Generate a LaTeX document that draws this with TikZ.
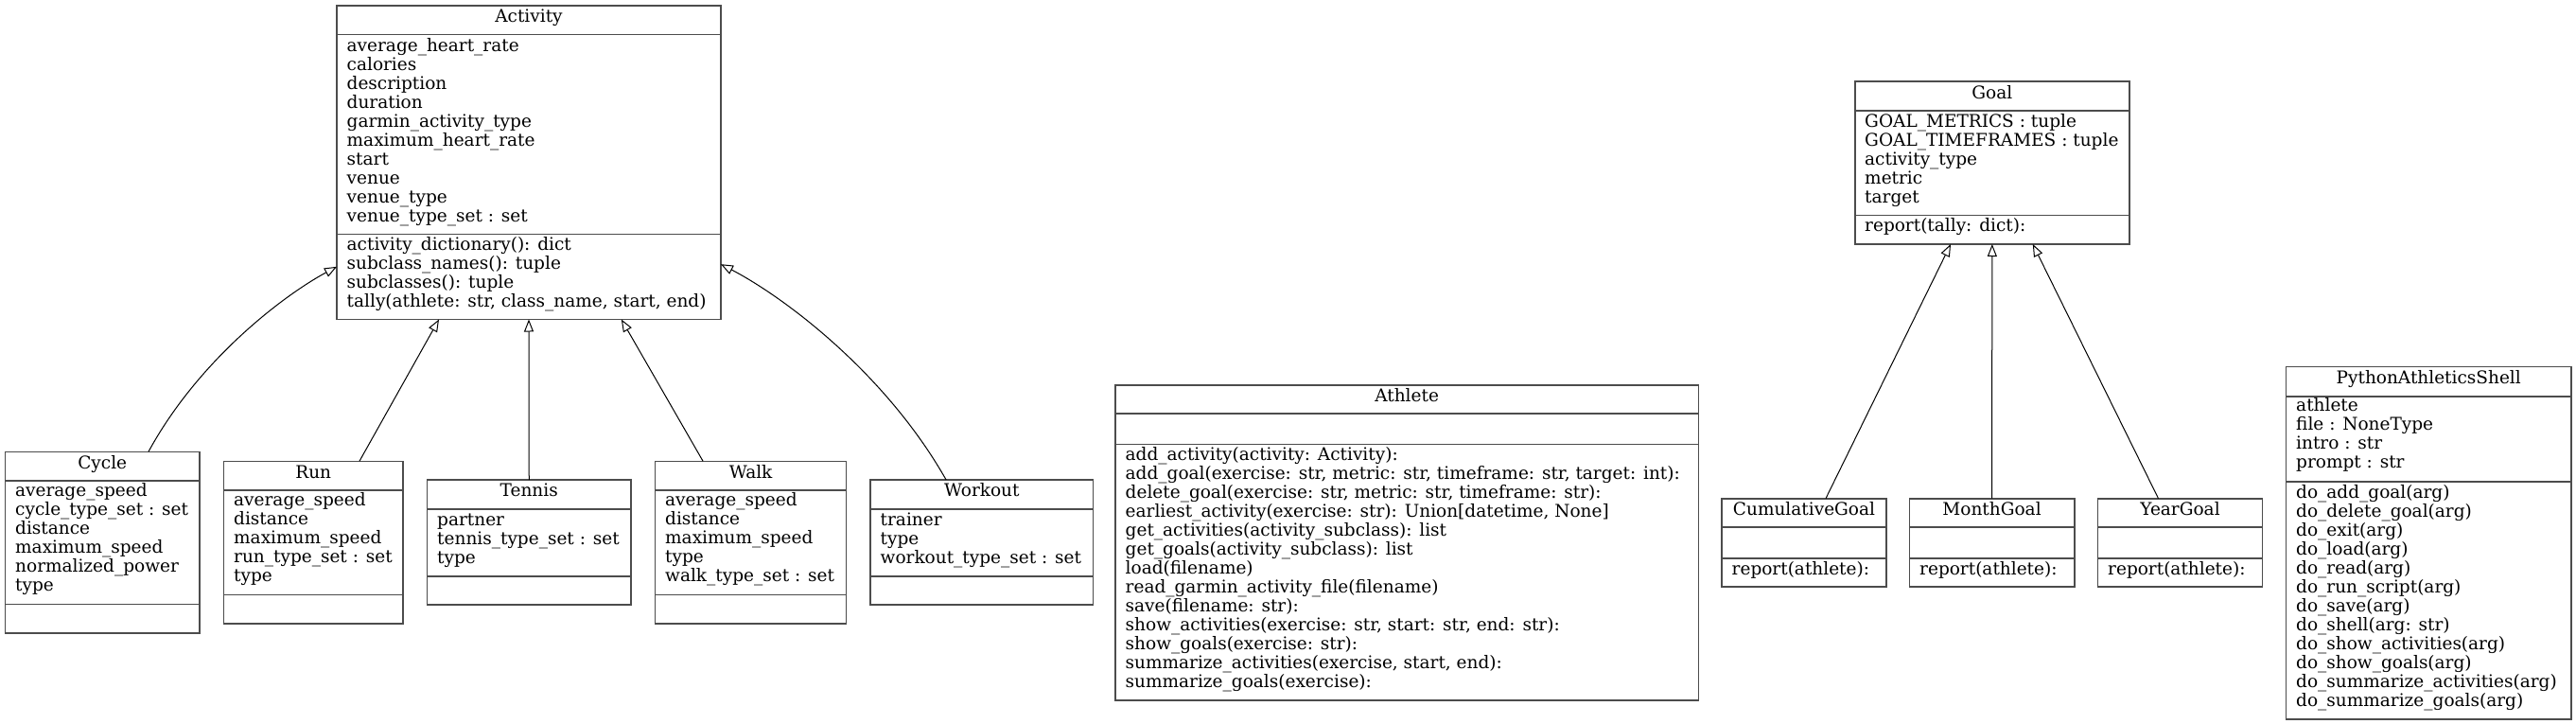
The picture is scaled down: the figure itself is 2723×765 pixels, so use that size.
\documentclass[tikz,border=0pt]{standalone}
\usepackage{fontspec}
\setmainfont{DejaVu Serif}
\usetikzlibrary{arrows.meta,calc}
\newcommand\umlfs{\fontsize{18.5}{20}\selectfont}
\tikzset{
  cls/.style={draw=black!70, line width=1.6pt, inner sep=0pt, outer sep=0pt, anchor=north west, fill=white},
  sepl/.style={draw=black!70, line width=1.6pt},
  ttl/.style={inner sep=0pt, anchor=mid, font=\umlfs},
  txt/.style={inner sep=0pt, anchor=mid west, align=left, font=\umlfs},
  inh/.style={draw=black, line width=1pt, -{Triangle[length=13pt,width=10pt,fill=white,line width=1pt]}}
}
% text nodes are anchored at the mid of their LAST line
\newcommand\umlclass[8]{%
  \node[cls, minimum width={(#4-#2)*1pt}, minimum height={(#5-#3)*1pt}] (#1) at (#2,-#3) {};
  \draw[sepl] (#1.west |- 0,-#6) -- (#1.east |- 0,-#6);
  \draw[sepl] (#1.west |- 0,-#7) -- (#1.east |- 0,-#7);
  \node[ttl] (#1-title) at ({(#2+#4)/2},{-(#3+#6)/2}) {#8};
}
\begin{document}
\begin{tikzpicture}[x=1pt,y=1pt]
\useasboundingbox (0,0) rectangle (2723,-765);
\fill[white] (0,0) rectangle (2723,-765);

% Activity
\umlclass{activity}{356}{6}{762}{337.5}{36.7}{247.3}{Activity}
\node[txt] (activity-attr) at (366.5,-231.7) {average\_heart\_rate\\calories\\description\\duration\\garmin\_activity\_type\\maximum\_heart\_rate\\start\\venue\\venue\_type\\venue\_type\_set : set};
\node[txt] (activity-meth) at (366.5,-322) {activity\_dictionary(): dict\\subclass\_names(): tuple\\subclasses(): tuple\\tally(athlete: str, class\_name, start, end)};

% Cycle
\umlclass{cycle}{5.5}{477.3}{211}{669}{507.7}{638.3}{Cycle}
\node[txt] (cycle-attr) at (16,-622.3) {average\_speed\\cycle\_type\_set : set\\distance\\maximum\_speed\\normalized\_power\\type};

% Run
\umlclass{run}{236.5}{487.3}{426}{659}{517.7}{628.3}{Run}
\node[txt] (run-attr) at (247,-612.3) {average\_speed\\distance\\maximum\_speed\\run\_type\_set : set\\type};

% Tennis
\umlclass{tennis}{451.5}{507}{667}{639}{537.7}{608.7}{Tennis}
\node[txt] (tennis-attr) at (462,-592.7) {partner\\tennis\_type\_set : set\\type};

% Walk
\umlclass{walk}{692.6}{487.3}{894.6}{659}{517.7}{628.3}{Walk}
\node[txt] (walk-attr) at (703,-612.3) {average\_speed\\distance\\maximum\_speed\\type\\walk\_type\_set : set};

% Workout
\umlclass{workout}{920}{507}{1155.6}{639}{537.7}{608.7}{Workout}
\node[txt] (workout-attr) at (930.5,-592.7) {trainer\\type\\workout\_type\_set : set};

% Athlete
\umlclass{athlete}{1179}{406.7}{1795.3}{740}{436.7}{469.3}{Athlete}
\node[txt] (athlete-meth) at (1189.5,-724.3) {add\_activity(activity: Activity):\\add\_goal(exercise: str, metric: str, timeframe: str, target: int):\\delete\_goal(exercise: str, metric: str, timeframe: str):\\earliest\_activity(exercise: str): Union[datetime, None]\\get\_activities(activity\_subclass): list\\get\_goals(activity\_subclass): list\\load(filename)\\read\_garmin\_activity\_file(filename)\\save(filename: str):\\show\_activities(exercise: str, start: str, end: str):\\show\_goals(exercise: str):\\summarize\_activities(exercise, start, end):\\summarize\_goals(exercise):};

% Goal
\umlclass{goal}{1960.7}{86}{2251}{258}{117}{227.4}{Goal}
\node[txt] (goal-attr) at (1971,-211.7) {GOAL\_METRICS : tuple\\GOAL\_TIMEFRAMES : tuple\\activity\_type\\metric\\target};
\node[txt] (goal-meth) at (1971,-242) {report(tally: dict):};

% CumulativeGoal, MonthGoal, YearGoal
\umlclass{cumgoal}{1820}{526.7}{1994}{620}{557}{589.7}{CumulativeGoal}
\node[txt] (cumgoal-meth) at (1830.5,-604.5) {report(athlete):};
\umlclass{monthgoal}{2018.4}{526.7}{2192.7}{620}{557}{589.7}{MonthGoal}
\node[txt] (monthgoal-meth) at (2029,-604.5) {report(athlete):};
\umlclass{yeargoal}{2217.4}{526.7}{2391.6}{620}{557}{589.7}{YearGoal}
\node[txt] (yeargoal-meth) at (2228,-604.5) {report(athlete):};

% PythonAthleticsShell
\umlclass{shell}{2416.4}{387.6}{2718}{759.8}{418.7}{508.7}{PythonAthleticsShell}
\node[txt] (shell-attr) at (2427,-492.4) {athlete\\file : NoneType\\intro : str\\prompt : str};
\node[txt] (shell-meth) at (2427,-744) {do\_add\_goal(arg)\\do\_delete\_goal(arg)\\do\_exit(arg)\\do\_load(arg)\\do\_read(arg)\\do\_run\_script(arg)\\do\_save(arg)\\do\_shell(arg: str)\\do\_show\_activities(arg)\\do\_show\_goals(arg)\\do\_summarize\_activities(arg)\\do\_summarize\_goals(arg)};

% Inheritance connectors
\draw[inh] ($(cycle.north west)!0.737!(cycle.north east)$) .. controls (210,-380) and (300,-312) .. ($(activity.north west)!0.832!(activity.south west)$);
\draw[inh] ($(run.north west)!0.757!(run.north east)$) -- ($(activity.south west)!0.266!(activity.south east)$);
\draw[inh] (tennis.north) -- (activity.south);
\draw[inh] ($(walk.north west)!0.25!(walk.north east)$) -- ($(activity.south west)!0.741!(activity.south east)$);
\draw[inh] ($(workout.north west)!0.34!(workout.north east)$) .. controls (936,-394) and (829,-314) .. ($(activity.north east)!0.824!(activity.south east)$);

\draw[inh] ($(cumgoal.north west)!0.632!(cumgoal.north east)$) -- ($(goal.south west)!0.349!(goal.south east)$);
\draw[inh] (monthgoal.north) -- (goal.south);
\draw[inh] ($(yeargoal.north west)!0.368!(yeargoal.north east)$) -- ($(goal.south west)!0.648!(goal.south east)$);
\end{tikzpicture}
\end{document}
